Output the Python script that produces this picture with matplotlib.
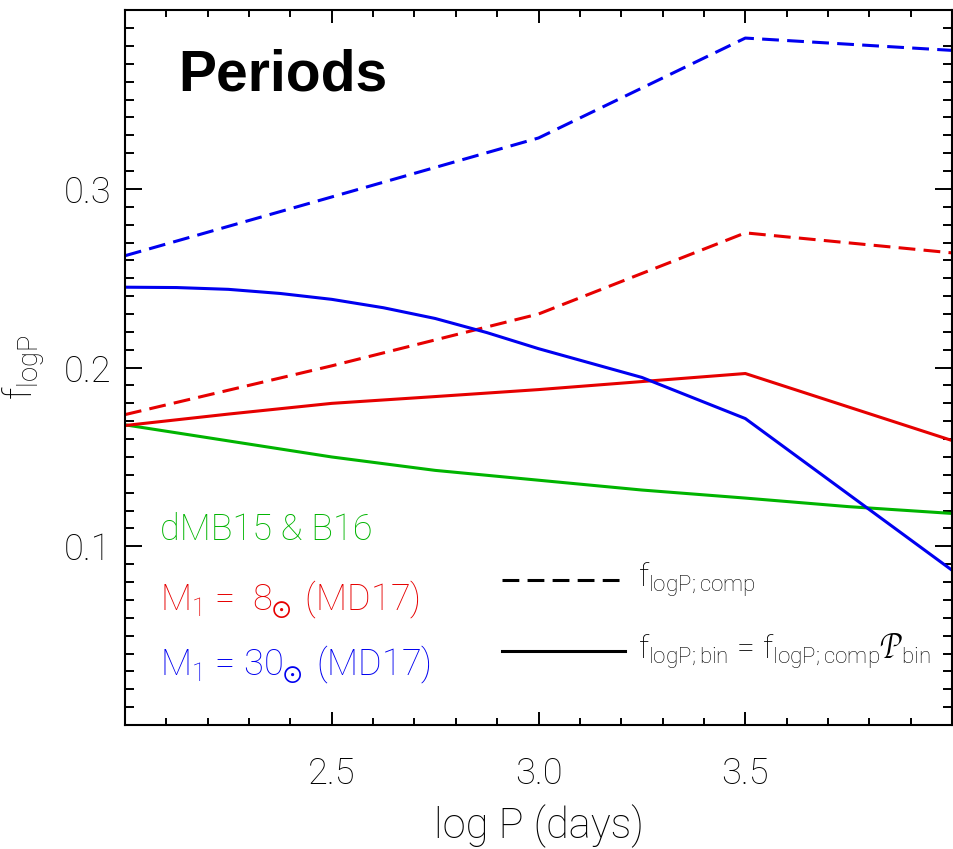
"""Orbital period distributions: companion and binary fractions vs log P."""

import matplotlib
matplotlib.use("Agg")
import matplotlib.pyplot as plt
from matplotlib.ticker import MultipleLocator

# dMB15 & B16
green_x = [2.0, 2.25, 2.5, 2.75, 3.0, 3.25, 3.5, 3.75, 4.0]
green_y = [0.168, 0.159, 0.150, 0.1425, 0.137, 0.1315, 0.127, 0.1222, 0.1184]

# M1 = 8 Msun (MD17)
red_comp_x = [2.0, 2.5, 3.0, 3.5, 4.0]
red_comp_y = [0.1737, 0.201, 0.230, 0.2754, 0.2642]
red_bin_x = [2.0, 2.25, 2.5, 2.75, 3.0, 3.5, 4.0]
red_bin_y = [0.1676, 0.174, 0.180, 0.1838, 0.1877, 0.1967, 0.1592]

# M1 = 30 Msun (MD17)
blue_comp_x = [2.0, 2.5, 3.0, 3.5, 4.0]
blue_comp_y = [0.2626, 0.2955, 0.3285, 0.3844, 0.3775]
blue_bin_x = [2.0, 2.125, 2.25, 2.375, 2.5, 2.625, 2.75, 2.875, 3.0, 3.25, 3.5, 4.0]
blue_bin_y = [0.245, 0.2448, 0.2438, 0.2415, 0.2382, 0.2335, 0.2275, 0.2196,
              0.2106, 0.1945, 0.1715, 0.0866]

GREEN = "#00b400"
RED = "#e60000"
BLUE = "#0000f0"

plt.rcParams["font.family"] = ["Roboto", "DejaVu Sans"]
plt.rcParams["font.weight"] = "light"
plt.rcParams["axes.labelweight"] = "light"
plt.rcParams["mathtext.fontset"] = "custom"
plt.rcParams["mathtext.rm"] = "Roboto:light"
plt.rcParams["mathtext.it"] = "Roboto:light"
plt.rcParams["mathtext.fallback"] = "stix"

fig = plt.figure(figsize=(9.54, 8.49), dpi=100)
ax = fig.add_axes([0.131, 0.146, 0.867, 0.842])

lw = 2.2
dash = (5.5, 2.7)
ax.plot(blue_comp_x, blue_comp_y, color=BLUE, lw=lw, dashes=dash)
ax.plot(red_comp_x, red_comp_y, color=RED, lw=lw, dashes=dash)
ax.plot(green_x, green_y, color=GREEN, lw=lw)
ax.plot(red_bin_x, red_bin_y, color=RED, lw=lw)
ax.plot(blue_bin_x, blue_bin_y, color=BLUE, lw=lw)

ax.set_xlim(2.0, 4.0)
ax.set_ylim(0.0, 0.4)
ax.xaxis.set_major_locator(MultipleLocator(0.5))
ax.xaxis.set_minor_locator(MultipleLocator(0.1))
ax.yaxis.set_major_locator(MultipleLocator(0.1))
ax.yaxis.set_minor_locator(MultipleLocator(0.01))
ax.set_xticks([2.5, 3.0, 3.5])
ax.set_xticklabels(["2.5", "3.0", "3.5"])
ax.set_yticks([0.1, 0.2, 0.3])
ax.set_yticklabels(["0.1", "0.2", "0.3"])

for side in ax.spines.values():
    side.set_linewidth(1.5)
ax.tick_params(which="both", direction="in", top=True, right=True, width=1.4,
               labelsize=26, colors="black")
ax.tick_params(axis="x", which="major", length=9.5, pad=22)
ax.tick_params(axis="x", which="minor", length=5)
ax.tick_params(axis="y", which="major", length=12.5, pad=10)
ax.tick_params(axis="y", which="minor", length=6.5)

ax.set_xlabel("log P (days)", fontsize=30, labelpad=9, fontweight="light")
ax.set_ylabel(r"f$_{\rm logP}$", fontsize=28, labelpad=12, fontweight="light")

ax.text(0.064, 0.909, "Periods", transform=ax.transAxes, fontsize=41,
        fontweight="bold", family="Liberation Sans", va="center", ha="left")

ax.text(0.042, 0.273, "dMB15 & B16", transform=ax.transAxes, fontsize=26,
        color=GREEN, va="center")
ax.text(0.042, 0.175, r"M$_1$ =  8$\!_\odot$ (MD17)", transform=ax.transAxes,
        fontsize=26, color=RED, va="center")
ax.text(0.042, 0.084, r"M$_1$ = 30$\!_\odot$ (MD17)", transform=ax.transAxes,
        fontsize=26, color=BLUE, va="center")

ax.plot([0.456, 0.605], [0.203, 0.203], transform=ax.transAxes, color="black",
        lw=lw, dashes=dash)
ax.plot([0.456, 0.605], [0.1035, 0.1035], transform=ax.transAxes, color="black",
        lw=lw)
ax.text(0.620, 0.203, r"f$_{\rm logP;comp}$", transform=ax.transAxes,
        fontsize=23, va="center")
ax.text(0.620, 0.1035, r"f$_{\rm logP;bin}$ = f$_{\rm logP;comp}$$\mathcal{P}_{\rm bin}$",
        transform=ax.transAxes, fontsize=23, va="center")

fig.savefig("out.png", dpi=100)
